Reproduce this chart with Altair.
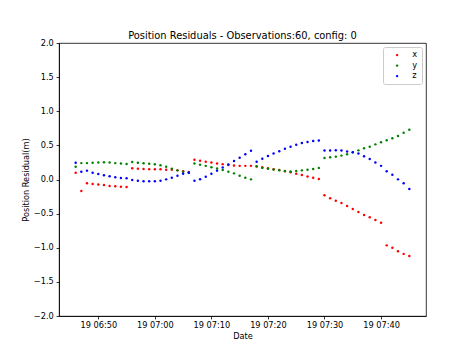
import altair as alt
import pandas as pd

# observation times: one per minute, 19th 06:46 .. 07:45
times = pd.date_range("2023-01-19 06:46:00", periods=60, freq="min").strftime("%Y/%m/%d %H:%M:%S").tolist()

x_res = [0.10, -0.168, -0.056, -0.066, -0.072, -0.08, -0.095, -0.10, -0.105, -0.11,
         0.164, 0.159, 0.154, 0.152, 0.149, 0.149, 0.144, 0.142, 0.134, 0.122,
         0.11, 0.29, 0.276, 0.261, 0.25, 0.235, 0.225, 0.212, 0.205, 0.2,
         0.2, 0.2, 0.19, 0.18, 0.165, 0.15, 0.138, 0.122, 0.105, 0.085,
         0.066, 0.045, 0.027, 0.007, -0.232, -0.276, -0.31, -0.344, -0.388, -0.432,
         -0.476, -0.52, -0.554, -0.593, -0.633, -0.965, -1.0, -1.05, -1.09, -1.12]

y_res = [0.188, 0.24, 0.24, 0.246, 0.25, 0.252, 0.25, 0.24, 0.235, 0.227,
         0.256, 0.246, 0.237, 0.232, 0.222, 0.208, 0.188, 0.159, 0.134, 0.115,
         0.10, 0.235, 0.215, 0.2, 0.18, 0.16, 0.14, 0.115, 0.09, 0.056,
         0.027, 0.002, 0.195, 0.17, 0.157, 0.147, 0.135, 0.125, 0.118, 0.125,
         0.134, 0.144, 0.154, 0.17, 0.315, 0.325, 0.335, 0.35, 0.37, 0.40,
         0.427, 0.457, 0.481, 0.515, 0.545, 0.574, 0.603, 0.637, 0.686, 0.73]

z_res = [0.246, 0.115, 0.13, 0.10, 0.08, 0.061, 0.047, 0.032, 0.022, 0.017,
         -0.007, -0.017, -0.027, -0.027, -0.027, -0.017, 0.002, 0.027, 0.056, 0.085,
         0.10, -0.017, 0.005, 0.04, 0.085, 0.13, 0.175, 0.22, 0.27, 0.32,
         0.37, 0.42, 0.26, 0.305, 0.345, 0.38, 0.415, 0.45, 0.48, 0.51,
         0.535, 0.55, 0.565, 0.57, 0.425, 0.425, 0.43, 0.425, 0.41, 0.40,
         0.38, 0.34, 0.30, 0.25, 0.20, 0.12, 0.071, 0.002, -0.056, -0.139]

components = ["x", "y", "z"]
colors = ["#ff0000", "#008000", "#0000ff"]
y_ticks = [-2.0, -1.5, -1.0, -0.5, 0.0, 0.5, 1.0, 1.5, 2.0]
x_tick_minutes = [(6, 50), (7, 0), (7, 10), (7, 20), (7, 30), (7, 40)]

rows = []
for comp, vals in zip(components, [x_res, y_res, z_res]):
    for t, v in zip(times, vals):
        rows.append({"Date": t, "residual": v, "component": comp})
df = pd.DataFrame(rows)

def dt(h, m, s=0):
    return alt.DateTime(year=2023, month=1, date=19, hours=h, minutes=m, seconds=s)

FONT = "DejaVu Sans"

chart = alt.Chart(df).mark_circle(size=6, opacity=1).encode(
    x=alt.X("Date:T",
            scale=alt.Scale(domain=[dt(6, 43, 3), dt(7, 47, 57)], nice=False),
            axis=alt.Axis(values=[dt(h, m) for h, m in x_tick_minutes],
                          format="%d %H:%M", title="Date", grid=False)),
    y=alt.Y("residual:Q",
            scale=alt.Scale(domain=[-2, 2], nice=False, zero=False),
            axis=alt.Axis(values=y_ticks, format=".1f",
                          title="Position Residual(m)", grid=False)),
    color=alt.Color("component:N",
                    scale=alt.Scale(domain=components, range=colors),
                    legend=alt.Legend(title=None, orient="top-right", offset=4,
                                      padding=4, strokeColor="#cccccc",
                                      fillColor="white", cornerRadius=2,
                                      symbolType="circle", symbolSize=6,
                                      symbolOffset=6, labelOffset=11,
                                      labelFont=FONT, labelFontSize=8.2,
                                      labelColor="black", rowPadding=1.5)),
).properties(
    width=367,
    height=273,
    title=alt.Title("Position Residuals - Observations:60, config: 0",
                    font=FONT, fontSize=9.9, fontWeight="normal",
                    color="black", anchor="middle", offset=5, dy=8),
    autosize=alt.AutoSizeParams(type="none"),
    padding={"left": 51, "top": 35, "right": 38, "bottom": 30},
).configure_view(
    stroke="black", strokeWidth=0.8
).configure_axis(
    domainColor="black", domainWidth=0.8,
    tickColor="black", tickWidth=0.8, tickSize=2.9,
    labelFont=FONT, labelFontSize=8.2, labelColor="black", labelPadding=2.9,
    titleFont=FONT, titleFontSize=8.2, titleFontWeight="normal",
    titleColor="black", titlePadding=3.3,
)

chart.save("out.html", embed_options={"renderer": "svg", "actions": False})
